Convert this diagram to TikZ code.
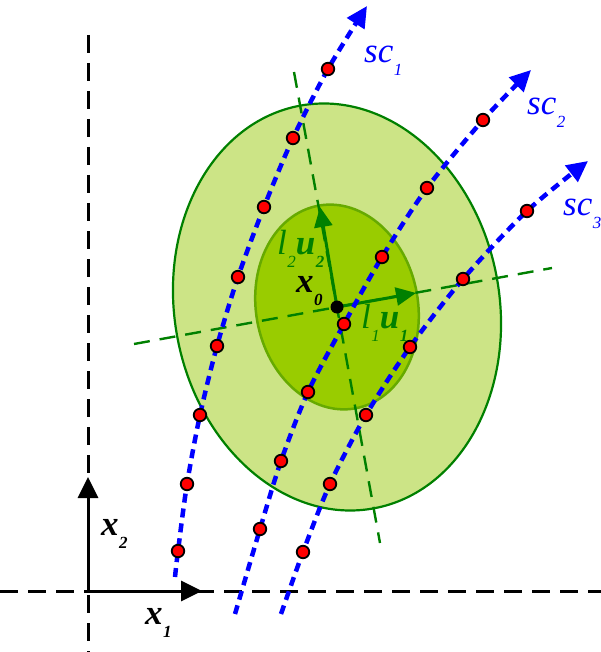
\documentclass[tikz,border=0pt]{standalone}
\usepackage{fontspec}
\setmainfont{Liberation Serif}
\usetikzlibrary{arrows.meta, calc}
\definecolor{scanblue}{RGB}{0,0,255}
\definecolor{darkgreen}{RGB}{0,128,0}
\definecolor{paleolive}{RGB}{204,228,134}
\definecolor{limegreen}{RGB}{153,204,0}
\definecolor{rimgreen}{RGB}{102,170,0}
\newcommand{\bigtxt}{\fontsize{35}{37}\selectfont}
\newcommand{\lbl}[2]{#1\kern0.5pt\raisebox{-13pt}{\fontsize{17}{17}\selectfont\itshape #2}}
\tikzset{
  axisdash/.style={line width=3pt, dash pattern=on 18pt off 10pt},
  axisline/.style={line width=3pt, -{Triangle[length=21pt, width=20pt]}},
  scanline/.style={scanblue, line width=4.5pt, dash pattern=on 9pt off 6pt, -{Triangle[length=21pt, width=20pt]}},
  pcaxis/.style={darkgreen, line width=2.4pt, dash pattern=on 16pt off 10pt},
  pcvec/.style={darkgreen, line width=3pt, -{Triangle[length=20pt, width=18pt]}},
  sample/.style={circle, fill=red, draw=black, line width=1.8pt, minimum size=12.5pt, inner sep=0pt},
  centre/.style={circle, fill=black, minimum size=13pt, inner sep=0pt},
  lab/.style={anchor=base west, inner sep=0pt, font=\bigtxt},
  outerell/.style={fill=paleolive, draw=darkgreen, line width=2.2pt},
  innerell/.style={fill=limegreen, draw=rimgreen, line width=2.5pt}
}
\begin{document}
\begin{tikzpicture}[x=1pt, y=-1pt]
    \useasboundingbox (0,0) rectangle (601,652);
    % reference axes
    \draw[axisdash] (0,591) -- (601,591);
    \draw[axisdash] (88,35) -- (88,652);
    \coordinate (o) at (88,591);
    \draw[axisline] (o) -- (88,477);
    \draw[axisline] (o) -- (202,591);
    \node[lab] (x1) at (145,624) {\lbl{\bfseries\itshape x}{1}};
    \node[lab] (x2) at (101,535) {\lbl{\bfseries\itshape x}{2}};

    % ellipsoids round x0
    \coordinate (x0) at (337,307);
    \draw[outerell, rotate around={10.3:(x0)}] (x0) ellipse [x radius=162.5pt, y radius=204.7pt];
    \draw[innerell, rotate around={10.3:(x0)}] (x0) ellipse [x radius=81pt, y radius=103pt];

    % principal axes
    \coordinate (p1a) at (134,344);
    \coordinate (p1b) at (552,268);
    \coordinate (p2a) at (294,72);
    \coordinate (p2b) at (380,543);
    \draw[pcaxis] (p1a) -- (p1b);
    \draw[pcaxis] (p2a) -- (p2b);
    \coordinate (u1) at (416,293);
    \coordinate (u2) at (320,207);
    \draw[pcvec] (x0) -- (u1);
    \draw[pcvec] (x0) -- (u2);

    % scan curves
    \foreach \n/\p in {0/{175,577},1/{178,551},2/{187,484},3/{200,415},4/{217,346},5/{238,277},6/{264,207},7/{293,138},8/{328,69},9/{367,6}}
        \coordinate (a\n) at (\p);
    \foreach \n/\p in {0/{235,614},1/{260,529},2/{281,461},3/{308,392},4/{344,324},5/{382,257},6/{427,188},7/{483,120},8/{531,70}}
        \coordinate (b\n) at (\p);
    \foreach \n/\p in {0/{281,614},1/{303,552},2/{330,484},3/{366,415},4/{410,347},5/{463,279},6/{527,211},7/{588,161}}
        \coordinate (c\n) at (\p);
    \draw[scanline] plot[smooth] coordinates {(a0) (a1) (a2) (a3) (a4) (a5) (a6) (a7) (a8) (a9)};
    \draw[scanline] plot[smooth] coordinates {(b0) (b1) (b2) (b3) (b4) (b5) (b6) (b7) (b8)};
    \draw[scanline] plot[smooth] coordinates {(c0) (c1) (c2) (c3) (c4) (c5) (c6) (c7)};

    % samples along the scans
    \foreach \n in {1,...,8}
        \node[sample] (sa\n) at (a\n) {};
    \foreach \n in {1,...,7}
        \node[sample] (sb\n) at (b\n) {};
    \foreach \n in {1,...,6}
        \node[sample] (sc\n) at (c\n) {};
    \node[centre] (mean) at (x0) {};

    % labels
    \node[lab] (lx0) at (296,292) {\lbl{\bfseries\itshape x}{0}};
    \node[lab, text=darkgreen] (lu2) at (277,254) {\lbl{\itshape l}{2}\lbl{\bfseries\itshape u}{2}};
    \node[lab, text=darkgreen] (lu1) at (361,328) {\lbl{\itshape l}{1}\lbl{\bfseries\itshape u}{1}};
    \node[lab, text=scanblue] (lsc1) at (364,63) {\lbl{\itshape sc}{1}};
    \node[lab, text=scanblue] (lsc2) at (527,115) {\lbl{\itshape sc}{2}};
    \node[lab, text=scanblue] (lsc3) at (563,215) {\lbl{\itshape sc}{3}};
\end{tikzpicture}
\end{document}
